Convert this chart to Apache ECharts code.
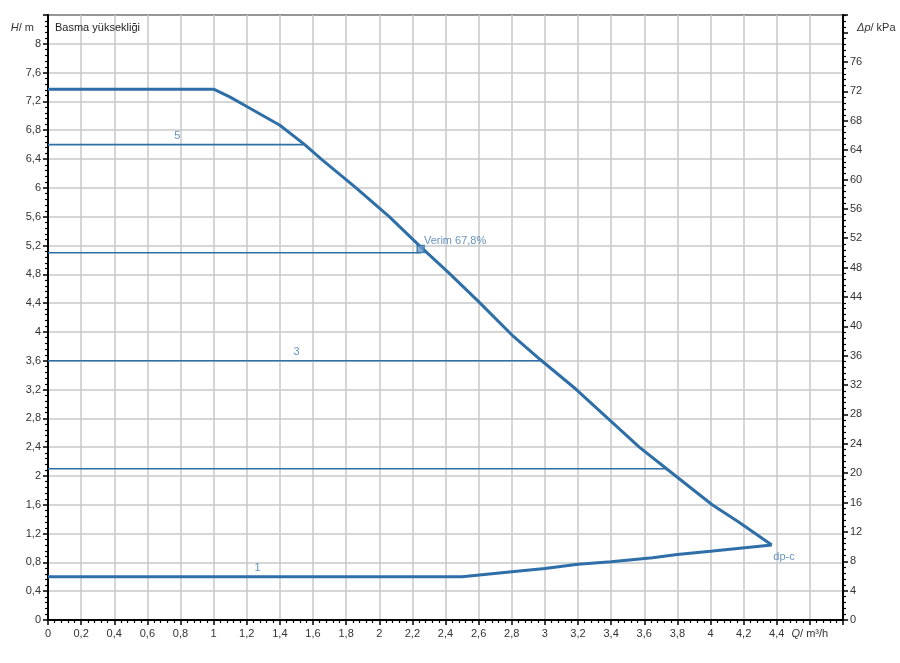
<!DOCTYPE html>
<html><head><meta charset="utf-8">
<script src="https://cdn.jsdelivr.net/npm/echarts@6/dist/echarts.min.js"></script>
<style>html,body{margin:0;padding:0;background:#fff}#c{width:900px;height:663px}</style>
</head><body><div id="c"></div>
<script>
// Max curve (Q m³/h, H m)
const maxCurve = [[0,7.37],[1.0,7.37],[1.1,7.26],[1.2,7.13],[1.4,6.87],[1.55,6.6],[1.65,6.4],[1.86,6.0],[2.06,5.6],[2.25,5.18],[2.42,4.82],[2.6,4.42],[2.8,3.96],[2.97,3.62],[3.19,3.2],[3.38,2.8],[3.57,2.4],[3.79,2.0],[4.01,1.6],[4.17,1.36],[4.37,1.04]];
// Min (dp-c) curve
const minCurve = [[0,0.6],[2.5,0.6],[2.8,0.67],[3.0,0.715],[3.2,0.775],[3.4,0.81],[3.65,0.865],[3.8,0.91],[4.0,0.955],[4.37,1.04]];
// Constant-head curves: [H, Qend]
const levelLines = [[6.6,1.55],[5.1,2.25],[3.6,2.98],[2.1,3.73]];
// Curve labels: [Q, H, text]
const curveLabels = [[0.78,6.6,'5'],[1.5,3.6,'3'],[1.265,0.6,'1']];
const effPoint = [2.25,5.15];
const effText = 'Verim 67,8%';
const endLabel = 'dp-c';
const titleText = 'Basma yüksekliği';
const xMax = 4.8, yMax = 8.4, kPaPerM = 9.81;

const C = '#2f6fa8', LC = '#3e78ad', FONT = 'Liberation Sans, Arial, sans-serif';
const fmt = v => String(Math.round(v*10)/10).replace('.', ',');
const chart = echarts.init(document.getElementById('c'));
const series = [];
series.push({type:'line', data:maxCurve, symbol:'none', lineStyle:{color:C,width:3}, z:5, silent:true});
series.push({type:'line', data:minCurve, symbol:'none', lineStyle:{color:C,width:3}, z:5, silent:true});
levelLines.forEach(l => series.push({type:'line', data:[[0,l[0]],[l[1],l[0]]], symbol:'none', lineStyle:{color:C,width:1.6}, z:4, silent:true}));
series.push({type:'scatter', symbolSize:1, itemStyle:{color:'rgba(0,0,0,0)'}, silent:true, z:6,
  data: curveLabels.map(d => ({value:[d[0],d[1]], label:{show:true, formatter:d[2], position:'top', distance:3, color:LC, fontSize:11, fontFamily:FONT}}))});
series.push({type:'scatter', symbol:'rect', symbolSize:7, itemStyle:{color:'#6f9ccb', borderColor:C, borderWidth:1.5}, z:7, silent:true,
  data:[{value:effPoint, label:{show:true, formatter:effText, position:'right', distance:0, offset:[-1,-8], color:LC, fontSize:11, fontFamily:FONT}}]});
series.push({type:'scatter', symbolSize:1, itemStyle:{color:'rgba(0,0,0,0)'}, silent:true, z:6,
  data:[{value:minCurve[minCurve.length-1], label:{show:true, formatter:endLabel, position:'right', distance:0, offset:[1,12], color:LC, fontSize:11, fontFamily:FONT}}]});

const axisLine = {show:true, onZero:false, lineStyle:{color:'#000', width:2}};
const rich = {i:{fontStyle:'italic', fontSize:11, color:'#333', fontFamily:FONT}, n:{fontSize:11, color:'#333', fontFamily:FONT}};
chart.setOption({
  animation:false,
  title:{text:titleText, left:50, top:17, textStyle:{fontSize:11, fontWeight:'normal', color:'#222', fontFamily:FONT}},
  grid:{left:48, right:57, top:15, bottom:43, show:true, borderColor:'#000', borderWidth:2, containLabel:false},
  xAxis:{type:'value', min:0, max:xMax, interval:0.2, axisLine,
    axisTick:{show:true, length:5, lineStyle:{color:'#000', width:1.5}},
    minorTick:{show:true, splitNumber:5, length:3, lineStyle:{color:'#000', width:1.2}},
    splitLine:{show:true, lineStyle:{color:'#c8c8c8', width:1.5}},
    axisLabel:{color:'#333', fontSize:11, fontFamily:FONT, margin:8, showMaxLabel:true, rich,
      formatter: v => Math.abs(v-4.6)<1e-6 ? '{i|Q}{n|/ m³/h}' : (Math.abs(v-4.8)<1e-6 ? '' : fmt(v))}},
  yAxis:[
    {type:'value', min:0, max:yMax, interval:0.4, axisLine,
      name:'{i|H}{n|/ m}', nameLocation:'end', nameGap:-18,
      nameTextStyle:{align:'right', padding:[0,14,0,0], rich},
      axisTick:{show:true, length:5, lineStyle:{color:'#000', width:1.5}},
      minorTick:{show:true, splitNumber:5, length:3, lineStyle:{color:'#000', width:1.2}},
      splitLine:{show:true, lineStyle:{color:'#c8c8c8', width:1.5}},
      axisLabel:{color:'#333', fontSize:11, fontFamily:FONT, margin:7, showMaxLabel:true,
        formatter: v => Math.abs(v-yMax)<1e-6 ? '' : fmt(v)}},
    {type:'value', position:'right', min:0, max:yMax*kPaPerM, interval:4, axisLine,
      name:'{i|Δp}{n|/ kPa}', nameLocation:'end', nameGap:-18,
      nameTextStyle:{align:'left', padding:[0,0,0,14], rich},
      axisTick:{show:true, length:5, lineStyle:{color:'#000', width:1.5}},
      minorTick:{show:true, splitNumber:5, length:3, lineStyle:{color:'#000', width:1.2}},
      splitLine:{show:false},
      axisLabel:{color:'#333', fontSize:11, fontFamily:FONT, margin:7, showMaxLabel:false,
        formatter: v => v > 78 ? '' : fmt(v)}}
  ],
  series
});
</script></body></html>
